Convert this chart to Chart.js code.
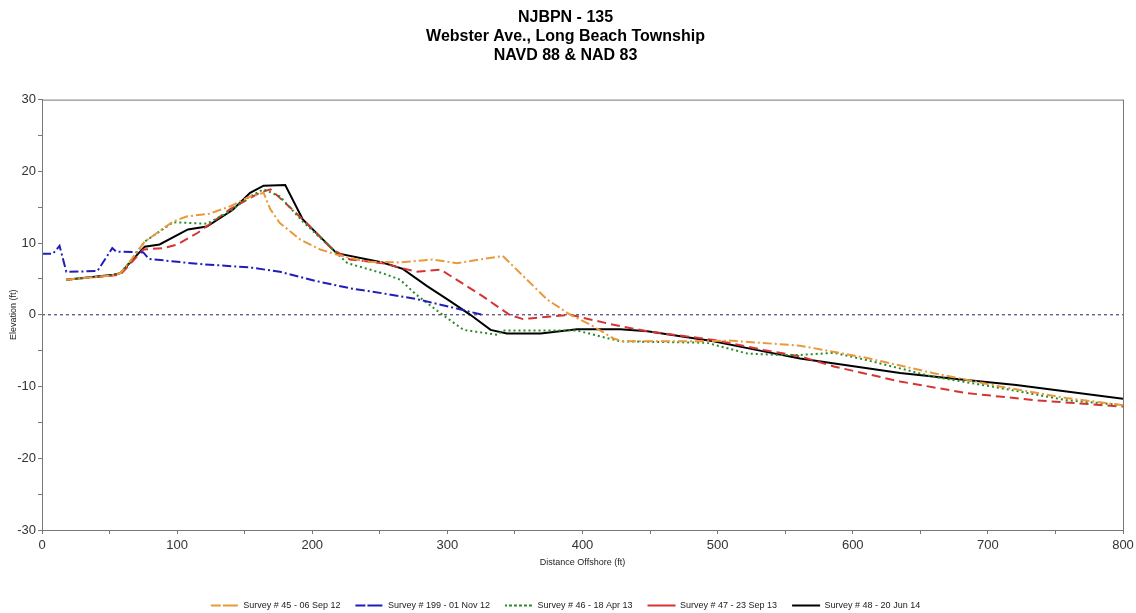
<!DOCTYPE html>
<html>
<head>
<meta charset="utf-8">
<script src="https://cdn.jsdelivr.net/npm/chart.js@4.4.1/dist/chart.umd.min.js"></script>
<style>
  html, body { margin: 0; padding: 0; background: #fff; }
  #wrap { width: 1136px; height: 613px; }
</style>
</head>
<body>
<div id="wrap"><canvas id="profile"></canvas></div>
<script>
const titleLines = ['NJBPN - 135', 'Webster Ave., Long Beach Township', 'NAVD 88 & NAD 83']
const surveyNames = ['Survey # 45 - 06 Sep 12', 'Survey # 199 - 01 Nov 12', 'Survey # 46 - 18 Apr 13', 'Survey # 47 - 23 Sep 13', 'Survey # 48 - 20 Jun 14']

// distance offshore (ft) / elevation (ft)
const s45X = [18, 52, 58, 65, 76, 97, 107, 124, 139, 154, 164, 169, 176, 191, 206, 218, 240, 265, 289, 307, 341, 374, 391, 406, 423, 430, 485, 509, 561, 610, 659, 709, 758, 800]
const s45Y = [4.9, 5.5, 5.8, 7.4, 10.2, 13.0, 13.7, 14.1, 15.1, 16.5, 17.0, 14.7, 12.8, 10.5, 9.1, 8.4, 7.4, 7.3, 7.7, 7.2, 8.2, 2.1, 0, -1.4, -3.3, -3.7, -3.7, -3.6, -4.3, -6.0, -8.1, -10.0, -11.6, -12.6]

const s199X = [0, 8, 13, 18, 20, 41, 52, 55, 75, 79, 115, 154, 176, 203, 228, 252, 277, 302, 326]
const s199Y = [8.5, 8.5, 9.6, 6.0, 6.0, 6.1, 9.3, 8.8, 8.7, 7.8, 7.1, 6.6, 6.0, 4.7, 3.7, 3.0, 2.2, 1.1, 0]

const s46X = [18, 52, 58, 65, 76, 97, 122, 139, 152, 164, 176, 193, 218, 226, 252, 265, 277, 295, 312, 337, 341, 396, 428, 492, 522, 546, 561, 586, 610, 659, 709, 758, 800]
const s46Y = [4.9, 5.5, 5.8, 7.4, 10.2, 12.9, 12.7, 14.4, 16.3, 17.5, 16.5, 13.0, 8.6, 7.2, 5.8, 4.9, 2.8, 0.2, -2.1, -2.8, -2.2, -2.2, -3.7, -3.9, -5.4, -5.6, -5.6, -5.3, -6.3, -8.6, -10.2, -11.9, -12.6]

const s47X = [18, 48, 58, 75, 90, 100, 115, 139, 161, 169, 176, 193, 215, 228, 252, 277, 295, 326, 346, 356, 361, 391, 423, 448, 497, 534, 561, 586, 635, 684, 734, 800]
const s47Y = [4.9, 5.4, 5.6, 9.1, 9.3, 9.8, 11.4, 14.7, 17.0, 17.5, 16.3, 13.3, 9.1, 7.7, 7.2, 6.0, 6.3, 2.6, 0, -0.6, -0.5, 0, -1.4, -2.3, -3.5, -4.9, -5.8, -7.2, -9.3, -10.9, -11.9, -12.8]

const s48X = [18, 53, 58, 76, 87, 108, 122, 141, 154, 164, 180, 193, 218, 252, 267, 285, 302, 317, 332, 344, 369, 396, 428, 448, 497, 534, 561, 635, 684, 721, 800]
const s48Y = [4.9, 5.6, 5.8, 9.5, 9.8, 11.9, 12.3, 14.6, 17.0, 18.0, 18.1, 13.3, 8.6, 7.3, 6.4, 4.0, 1.9, 0, -2.1, -2.6, -2.6, -2.0, -2.0, -2.3, -3.7, -5.1, -6.1, -8.1, -9.1, -9.8, -11.7]

const zeroX = [0, 800]
const zeroY = [0, 0]

const pts = (xs, ys) => xs.map((x, i) => ({ x: x, y: ys[i] }))

const colors = ['#e9993b', '#1f1fb8', '#2a8a2a', '#d63333', '#000000']
const dashes = [[9, 3, 2, 3], [9, 3, 2, 3], [2, 3], [9, 5], []]
const series = [pts(s45X, s45Y), pts(s199X, s199Y), pts(s46X, s46Y), pts(s47X, s47Y), pts(s48X, s48Y)]

let datasets = series.map((d, i) => ({
    label: surveyNames[i],
    data: d,
    borderColor: colors[i],
    backgroundColor: 'rgba(0,0,0,0)',
    borderDash: dashes[i],
    borderWidth: 2,
    pointRadius: 0,
    tension: 0
}))
datasets.push({
    label: 'zero',
    data: pts(zeroX, zeroY),
    borderColor: '#22225a',
    borderDash: [3, 3],
    borderWidth: 1,
    pointRadius: 0
})

const frame = {
    id: 'frame',
    afterDraw(chart) {
        const a = chart.chartArea
        const ctx = chart.ctx
        ctx.save()
        ctx.strokeStyle = '#777'
        ctx.lineWidth = 1
        ctx.strokeRect(a.left + 0.5, a.top + 0.5, a.right - a.left, a.bottom - a.top)
        ctx.restore()
    }
}

const narrow = "'Liberation Sans Narrow', 'Liberation Sans', Arial, sans-serif"

new Chart(document.getElementById('profile'), {
    type: 'line',
    data: { datasets: datasets },
    plugins: [frame],
    options: {
        responsive: true,
        maintainAspectRatio: false,
        animation: false,
        layout: { padding: { left: 8, right: 13, top: 0, bottom: -7 } },
        plugins: {
            title: {
                display: true,
                text: titleLines,
                color: '#000',
                font: { family: "'Liberation Sans', Arial, sans-serif", size: 16, weight: 'bold', lineHeight: 1.2 },
                padding: { top: 8, bottom: 34 }
            },
            legend: {
                position: 'bottom',
                labels: {
                    filter: item => item.text !== 'zero',
                    boxWidth: 28,
                    boxHeight: 0,
                    padding: 15,
                    color: '#222',
                    font: { family: narrow, size: 9 }
                }
            },
            tooltip: { enabled: false }
        },
        scales: {
            x: {
                type: 'linear',
                min: 0,
                max: 800,
                afterFit: s => { s.height = 56; s.paddingRight = 0; s.paddingLeft = 0 },
                ticks: {
                    stepSize: 50,
                    autoSkip: false,
                    maxRotation: 0,
                    color: '#333',
                    padding: 4,
                    font: { family: narrow, size: 13 },
                    callback: v => (v % 100 === 0 ? v : '')
                },
                grid: { drawOnChartArea: false, drawTicks: true, tickLength: 4, color: '#777' },
                border: { color: '#777' },
                title: { display: true, text: 'Distance Offshore (ft)', color: '#222', font: { family: narrow, size: 9 }, padding: { top: 2, bottom: 18 } }
            },
            y: {
                min: -30,
                max: 30,
                afterFit: s => { s.width = 34 },
                ticks: {
                    stepSize: 5,
                    autoSkip: false,
                    color: '#333',
                    padding: 2,
                    font: { family: narrow, size: 13 },
                    callback: v => (v % 10 === 0 ? v : '')
                },
                grid: { drawOnChartArea: false, drawTicks: true, tickLength: 4, color: '#777' },
                border: { color: '#777' },
                title: { display: true, text: 'Elevation (ft)', color: '#222', font: { family: narrow, size: 9 }, padding: 0 }
            }
        }
    }
})
</script>
</body>
</html>
